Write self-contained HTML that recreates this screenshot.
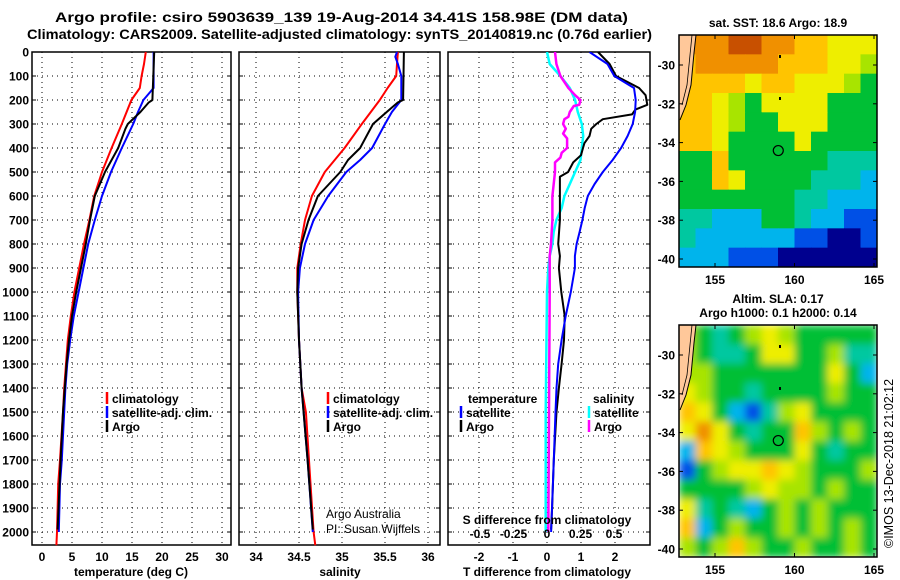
<!DOCTYPE html>
<html><head><meta charset="utf-8"><style>
body{margin:0;background:#fff}
svg{display:block;font-family:"Liberation Sans",sans-serif}
.b{font-weight:bold;font-size:12px}
.t{font-weight:bold;font-size:13.5px}
.g{stroke:#000;stroke-width:1;stroke-dasharray:1,4}
</style></head><body>
<svg id="s" width="900" height="580" viewBox="0 0 900 580">
<text class="t" x="55" y="22" textLength="573" lengthAdjust="spacingAndGlyphs">Argo profile: csiro 5903639_139 19-Aug-2014 34.41S 158.98E (DM data)</text>
<text class="t" x="27" y="39" textLength="625" lengthAdjust="spacingAndGlyphs">Climatology: CARS2009. Satellite-adjusted climatology: synTS_20140819.nc (0.76d earlier)</text>
<g id="root"></g>
</svg>
<script>
// ---- data ----
const depthTicks=[0,100,200,300,400,500,600,700,800,900,1000,1100,1200,1300,1400,1500,1600,1700,1800,1900,2000];
const tempTicks=[0,5,10,15,20,25,30];
const salTicks=[34,34.5,35,35.5,36];
const tdTicks=[-2,-1,0,1,2];
const sdTicks=[-0.5,-0.25,0,0.25,0.5];
const sdTickLabels=["-0.5","-0.25","0","0.25","0.5"];

const climTDepth=[0,50,100,150,200,300,400,500,600,700,800,900,1000,1100,1200,1300,1400,1500,1700,1800,2000,2055];
const climT=[17.3,17.0,16.6,16.3,14.9,13.3,11.6,10.0,8.7,7.9,7.0,6.2,5.4,4.8,4.3,4.0,3.7,3.5,3.0,2.7,2.5,2.4];
const satTDepth=[0,150,200,250,300,400,500,600,700,800,900,1000,1100,1200,1300,1400,1500,1700,1800,2000];
const satT=[18.6,18.6,16.9,16.0,15.2,13.3,11.5,10.0,8.8,7.7,6.9,6.1,5.3,4.7,4.2,3.9,3.7,3.3,3.0,2.8];
const argoTDepth=[0,200,210,250,300,320,400,500,600,700,800,900,1000,1100,1200,1300,1400,1500,1700,1990];
const argoT=[18.7,18.4,17.8,16.4,14.3,13.9,12.7,10.5,8.8,8.0,7.3,6.5,5.7,5.0,4.5,4.1,3.8,3.5,3.1,2.6];

const climSDepth=[0,50,100,150,200,300,400,500,600,700,800,900,1000,1200,1400,1500,2000,2055];
const climS=[35.65,35.64,35.63,35.53,35.44,35.23,35.03,34.80,34.65,34.57,34.52,34.48,34.48,34.50,34.53,34.58,34.67,34.69];
const satSDepth=[0,20,50,100,200,250,300,400,450,500,600,700,800,900,1000,1200,1400,1700,2000];
const satS=[35.64,35.62,35.65,35.69,35.69,35.58,35.50,35.35,35.21,35.05,34.84,34.67,34.57,34.51,34.49,34.50,34.53,34.60,34.66];
const argoSDepth=[0,200,210,250,300,400,450,500,600,700,800,900,1000,1200,1400,1700,1990];
const argoS=[35.72,35.71,35.65,35.52,35.36,35.21,35.07,34.98,34.72,34.61,34.53,34.49,34.48,34.50,34.53,34.60,34.66];

const dTSatDepth=[0,50,100,150,200,250,300,350,400,450,500,550,600,650,700,750,800,850,900,1000,1100,1200,1300,1400,1500,1700,2000];
const dTSat=[1.25,1.78,1.98,2.56,2.61,2.59,2.52,2.37,2.18,1.93,1.64,1.40,1.20,1.11,1.04,0.96,0.87,0.82,0.82,0.70,0.55,0.43,0.33,0.28,0.25,0.20,0.12];
const dTArgoDepth=[0,50,100,150,180,220,240,260,280,300,320,350,380,400,430,460,500,520,600,700,800,850,900,1000,1100,1200,1300,1400,1500,1700,1900,1990];
const dTArgo=[1.50,1.84,2.03,2.71,2.90,2.95,2.60,2.50,1.64,1.45,1.30,1.25,1.10,1.06,1.00,0.77,0.62,0.38,0.38,0.38,0.33,0.38,0.35,0.42,0.52,0.50,0.43,0.35,0.28,0.20,0.15,0.12];
const dSSatDepth=[0,50,100,150,200,250,300,350,400,450,500,550,600,650,700,750,800,850,900,1000,1500,2000];
const dSSat=[0,0.02,0.10,0.17,0.21,0.23,0.26,0.27,0.26,0.25,0.21,0.17,0.13,0.11,0.07,0.05,0.04,0.02,0.01,0,-0.01,-0.01];
const dSArgoDepth=[0,50,100,150,180,200,220,225,250,270,280,300,320,340,360,400,420,440,460,500,600,700,800,850,1000,1500,2000];
const dSArgo=[0.06,0.07,0.10,0.16,0.21,0.25,0.24,0.20,0.17,0.16,0.13,0.12,0.14,0.12,0.15,0.15,0.11,0.10,0.06,0.06,0.04,0.04,0.03,0.02,0.02,0.015,0.01];

const sstGrid=["888998877666","788888777665","777767766654","776546666444","776544666444","776444464444","447444444333","447644443332","444444433222","332224432211","322222211001","222111000000"];
const slaGrid=["543456544444","543346644533","554444444642","654434444544","764213564444","686434475454","276544464344","145667654445","444456554544","634324545444","724544545454","545754454454"];
const lonTicks=[155,160,165];
const latTicks=[-30,-32,-34,-36,-38,-40];
const argoLon=158.98, argoLat=-34.41;

// ---- drawing ----
const NS="http://www.w3.org/2000/svg";
const root=document.getElementById('root');
function el(tag,attrs,parent){const e=document.createElementNS(NS,tag);for(const k in attrs)e.setAttribute(k,attrs[k]);(parent||root).appendChild(e);return e;}
function txt(s,attrs,parent){const e=el('text',attrs,parent);e.textContent=s;return e;}
const Y0=52, PB=545;
function yD(d){return Y0+d*0.24;}
function linX(a,b,va,vb){return v=>a+(v-va)*(b-a)/(vb-va);}
const panels=[{x0:32,x1:231,fx:linX(42,222,0,30),ticks:tempTicks,name:'temperature-panel'},
{x0:239,x1:440,fx:linX(256,428,34,36),ticks:salTicks,name:'salinity-panel'},
{x0:448,x1:650,fx:linX(547,615,0,2),ticks:tdTicks,name:'difference-panel'}];
const fS=linX(547,614,0,0.5);

panels.forEach((p,i)=>{
  const g=el('g',{});
  
  
  depthTicks.forEach(d=>{const l=el('line',{x1:p.x0,x2:p.x1,y1:yD(d),y2:yD(d),class:'g'},g);
    
    el('line',{x1:p.x0,x2:p.x0+4,y1:yD(d),y2:yD(d),stroke:'#000'},g);el('line',{x1:p.x1-4,x2:p.x1,y1:yD(d),y2:yD(d),stroke:'#000'},g);});
  p.ticks.forEach((t,j)=>{const x=p.fx(t);const l=el('line',{x1:x,x2:x,y1:Y0,y2:PB,class:'g'},g);
    
    const lb=txt(String(t),{x:x,y:561,class:'b','text-anchor':'middle'},g);
    });
  const r=el('rect',{x:p.x0,y:Y0,width:p.x1-p.x0,height:PB-Y0,fill:'none',stroke:'#000','stroke-width':1.5},g);
  
});
depthTicks.forEach(d=>{const t=txt(String(d),{x:29,y:yD(d)+4.5,class:'b','text-anchor':'end'});
  });

function line(depths,vals,fx,color,w,name){
  const pts=depths.map((d,i)=>fx(vals[i]).toFixed(1)+','+yD(d).toFixed(1)).join(' ');
  const pl=el('polyline',{points:pts,fill:'none',stroke:color,'stroke-width':w,'stroke-linejoin':'round'});
  
  return pl;
}
const cp=el('clipPath',{id:'c3'});el('rect',{x:448,y:52,width:202,height:493},cp);
line(climTDepth,climT,panels[0].fx,'#f00',2,'temp-climatology-line');
line(satTDepth,satT,panels[0].fx,'#00f',2,'temp-satellite-line');
line(argoTDepth,argoT,panels[0].fx,'#000',2,'temp-argo-line');
line(climSDepth,climS,panels[1].fx,'#f00',2,'sal-climatology-line');
line(satSDepth,satS,panels[1].fx,'#00f',2,'sal-satellite-line');
line(argoSDepth,argoS,panels[1].fx,'#000',2,'sal-argo-line');
line(dSSatDepth,dSSat,fS,'#0ff',2.5,'sdiff-satellite-line').setAttribute('clip-path','url(#c3)');
line(dSArgoDepth,dSArgo,fS,'#f0f',2.5,'sdiff-argo-line').setAttribute('clip-path','url(#c3)');
line(dTArgoDepth,dTArgo,panels[2].fx,'#000',2,'tdiff-argo-line').setAttribute('clip-path','url(#c3)');
line(dTSatDepth,dTSat,panels[2].fx,'#00f',2,'tdiff-satellite-line').setAttribute('clip-path','url(#c3)');

function leg(x,y,color,label,name){
  const g=el('g',{});
  el('line',{x1:x,x2:x,y1:y-11,y2:y+1,stroke:color,'stroke-width':2.5},g);
  txt(label,{x:x+5,y:y,class:'b'},g);
}
[[0,107],[1,328]].forEach(([i,x])=>{
  leg(x,403,'#f00','climatology','legend-climatology');
  leg(x,417,'#00f','satellite-adj. clim.','legend-satellite');
  leg(x,431,'#000','Argo','legend-argo');
});
txt('temperature',{x:468,y:403,class:'b'});
leg(461,417,'#00f','satellite','legend-tdiff-satellite');
leg(461,431,'#000','Argo','legend-tdiff-argo');
txt('salinity',{x:593,y:403,class:'b'});
leg(589,417,'#0ff','satellite','legend-sdiff-satellite');
leg(589,431,'#f0f','Argo','legend-sdiff-argo');
txt('S difference from climatology',{x:547,y:524,class:'b','text-anchor':'middle'});
sdTicks.forEach((t,i)=>{const e=txt(sdTickLabels[i],{x:fS(t),y:538,class:'b','text-anchor':'middle'});
  });
txt('Argo Australia',{x:326,y:518,'font-size':12});
txt('PI: Susan Wijffels',{x:326,y:533,'font-size':12});
txt('temperature (deg C)',{x:131,y:576,class:'b','text-anchor':'middle'});
txt('salinity',{x:340,y:576,class:'b','text-anchor':'middle'});
txt('T difference from climatology',{x:547,y:576,class:'b','text-anchor':'middle'});

// maps
const cmap=['#00008f','#0050e6','#00b4ec','#00c8a0','#00bf35','#a8e400','#eeee00','#ffc400','#f09000','#c85000'];
function map(top,grid,title,name,blur){
  const X0=679,X1=877,Y1=top+232;
  const fx=linX(715,874,155,165), fy=linX(top+30,top+224,-30,-40);
  const g=el('g',{});
  const cid='m'+top;const c=el('clipPath',{id:cid},g);el('rect',{x:X0,y:top,width:X1-X0,height:232},c);
  const cells=el('g',{'clip-path':'url(#'+cid+')'},g);
  if(blur){const f=el('filter',{id:'bl'+top,filterUnits:'userSpaceOnUse',x:X0,y:top,width:X1-X0,height:232},g);
    el('feGaussianBlur',{stdDeviation:4,edgeMode:'duplicate'},f);}
  const inner=el('g',blur?{filter:'url(#bl'+top+')'}:{},cells);
  const rows=grid.length, cols=grid[0].length, cw=(X1-X0)/cols, rh=232/rows;
  grid.forEach((row,r)=>{[...row].forEach((v,k)=>{
    const e=el('rect',{x:X0+k*cw,y:top+r*rh,width:cw+0.5,height:rh+0.5,fill:cmap[+v]},inner);
    
    });});
  const land=el('path',{d:`M${X0},${top} L${X0+17},${top} L${X0+15},${top+18} L${X0+12},${top+50} L${X0+7},${top+70} L${X0},${top+85} Z`,fill:'#ffc89a'},cells);
  
  el('path',{d:`M${X0+17},${top} L${X0+15},${top+18} L${X0+12},${top+50} L${X0+7},${top+70} L${X0+1},${top+85}`,fill:'none',stroke:'#000','stroke-width':1},cells);
  el('path',{d:`M${X0+13},${top} L${X0+11},${top+20} L${X0+8},${top+50} L${X0+3},${top+70}`,fill:'none',stroke:'#000','stroke-width':0.8},cells);
  el('rect',{x:779,y:top+20,width:2,height:3,fill:'#000'},g);el('rect',{x:779,y:top+62,width:2,height:3,fill:'#000'},g);
  const m=el('circle',{cx:fx(argoLon),cy:fy(argoLat),r:5,fill:'none',stroke:'#000','stroke-width':1.2},g);
  
  el('rect',{x:X0,y:top,width:X1-X0,height:232,fill:'none',stroke:'#000','stroke-width':1.5},g);
  lonTicks.forEach(l=>{const x=fx(l);el('line',{x1:x,x2:x,y1:top,y2:top+4,stroke:'#000'},g);el('line',{x1:x,x2:x,y1:Y1,y2:Y1-4,stroke:'#000'},g);
    const t=txt(String(l),{x:x,y:Y1+17,class:'b','text-anchor':'middle'},g);});
  latTicks.forEach(l=>{const y=fy(l);el('line',{x1:X1,x2:X1-4,y1:y,y2:y,stroke:'#000'},g);el('line',{x1:X0,x2:X0+4,y1:y,y2:y,stroke:'#000'},g);
    const t=txt(String(l),{x:675,y:y+4.5,class:'b','text-anchor':'end'},g);});
  title.forEach((s,i)=>{const t=txt(s,{x:778,y:top-8-(title.length-1-i)*14,class:'b','text-anchor':'middle'},g);});
}
map(35,sstGrid,['sat. SST: 18.6 Argo: 18.9'],'sst-map',false);
map(325,slaGrid,['Altim. SLA: 0.17','Argo h1000: 0.1 h2000: 0.14'],'sla-map',true);
const cr=txt('©IMOS 13-Dec-2018 21:02:12',{x:0,y:0,'font-size':12.5,transform:'translate(893,548) rotate(-90)'});


</script>
</body></html>
